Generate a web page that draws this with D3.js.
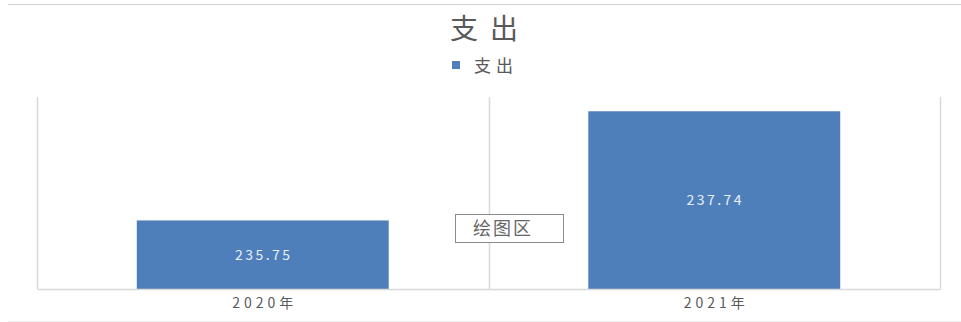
<!DOCTYPE html>
<html>
<head>
<meta charset="utf-8">
<script src="https://cdn.jsdelivr.net/npm/d3@7"></script>
<style>
	body { margin: 0; background: #fff; }
	text { font-family: "Noto Sans CJK SC", "DejaVu Sans", sans-serif; }
</style>
</head>
<body>
<svg id="chart" width="961" height="322"></svg>
<script>
// Chart data.
const categories = ["2020年", "2021年"];
const values = [235.75, 237.74];
const series_name = "支出";
const chart_title = "支出";
const y_domain = [234.5, 238];

let svg = d3.select("#chart");

// Outer frame lines (top / bottom).
svg.append("line").attr("x1", 8).attr("x2", 961).attr("y1", 4.5).attr("y2", 4.5)
	.attr("stroke", "#d4d4d4");
svg.append("line").attr("x1", 8).attr("x2", 961).attr("y1", 321.5).attr("y2", 321.5)
	.attr("stroke", "#ececec");

// Scales.
let x_cell = d3.scaleBand().domain(categories).range([37, 940]);
let x = d3.scaleBand().domain(categories).range([37, 940])
	.paddingInner(0.442).paddingOuter(0.221);
let y = d3.scaleLinear().domain(y_domain).range([289, 97]);

// Category separators (vertical gridlines).
let bounds = categories.map(c => x_cell(c)).concat([x_cell.range()[1]]);
svg.selectAll(".sep").data(bounds).enter().append("line")
	.attr("class", "sep")
	.attr("x1", d => Math.round(d) + 0.5).attr("x2", d => Math.round(d) + 0.5)
	.attr("y1", y(y_domain[1])).attr("y2", y(y_domain[0]))
	.attr("stroke", "#d9d9d9").attr("stroke-width", 1.5);

// Bars.
svg.selectAll(".bar").data(values).enter().append("rect")
	.attr("class", "bar")
	.attr("x", (d, i) => x(categories[i]))
	.attr("width", x.bandwidth())
	.attr("y", d => y(d))
	.attr("height", d => y(y_domain[0]) - y(d))
	.attr("fill", "#4f7fbb");

// Value labels inside bars.
svg.selectAll(".val").data(values).enter().append("text")
	.attr("class", "val")
	.attr("x", (d, i) => x(categories[i]) + x.bandwidth() / 2 + 1)
	.attr("y", d => (y(d) + y(y_domain[0])) / 2 + 5)
	.attr("text-anchor", "middle")
	.attr("font-size", 14)
	.attr("letter-spacing", 2.5)
	.attr("fill", "#e8f0fb")
	.text(d => d.toFixed(2));

// X axis (baseline and category labels).
let x_axis = svg.append("g")
	.attr("transform", "translate(0," + y(y_domain[0]) + ")")
	.call(d3.axisBottom(x_cell).tickSize(0).tickPadding(9));
x_axis.select(".domain").attr("stroke", "#d9d9d9").attr("stroke-width", 1.5);
x_axis.selectAll("text")
	.attr("font-size", 14)
	.attr("letter-spacing", 4)
	.attr("dx", 2)
	.attr("fill", "#595959")
	.style("font-family", "\"Noto Sans CJK SC\", sans-serif");

// Title.
svg.append("text")
	.attr("x", 490).attr("y", 39)
	.attr("text-anchor", "middle")
	.attr("font-size", 28)
	.attr("letter-spacing", 12)
	.attr("fill", "#595959")
	.text(chart_title);

// Legend.
svg.append("rect").attr("x", 452).attr("y", 61).attr("width", 8).attr("height", 8)
	.attr("fill", "#4f7fbb");
svg.append("text")
	.attr("x", 474).attr("y", 72)
	.attr("font-size", 17)
	.attr("letter-spacing", 5)
	.attr("fill", "#595959")
	.text(series_name);

// "绘图区" hover label box.
svg.append("rect").attr("x", 455.5).attr("y", 214.5).attr("width", 108).attr("height", 28)
	.attr("fill", "#fff").attr("stroke", "#8c8c8c");
svg.append("text")
	.attr("x", 503).attr("y", 235)
	.attr("text-anchor", "middle")
	.attr("font-size", 18)
	.attr("letter-spacing", 2)
	.attr("fill", "#666")
	.text("绘图区");
</script>
</body>
</html>
